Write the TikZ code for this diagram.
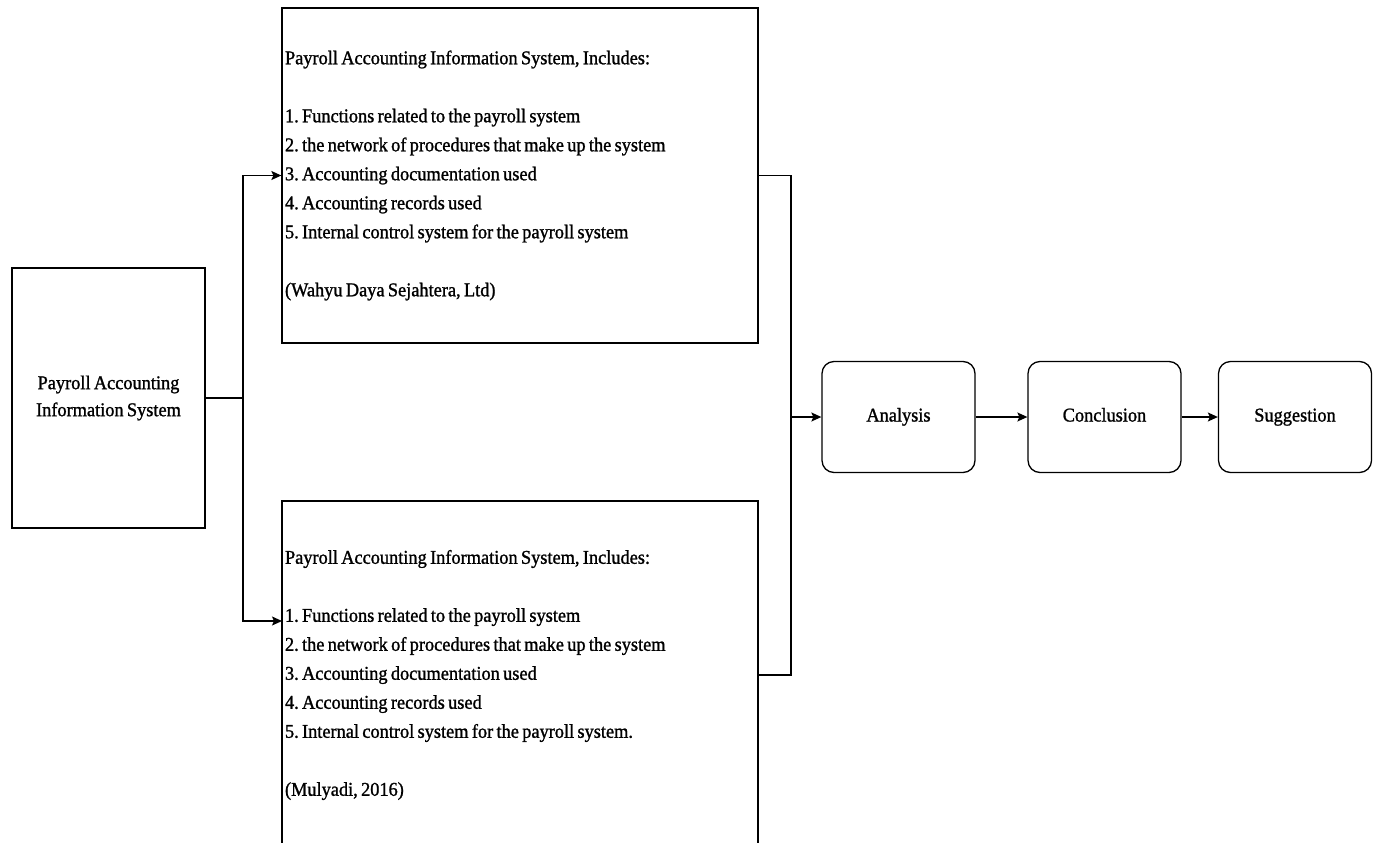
\documentclass[tikz,border=0pt]{standalone}
\usepackage{fontspec}
\setmainfont[FakeStretch=0.94,FakeBold=1.2]{Liberation Serif}
\usetikzlibrary{arrows.meta}
\newcommand{\tightsp}{\spaceskip=0.17em plus 0.05em minus 0.02em\relax}
\begin{document}
\frenchspacing
\begin{tikzpicture}[x=1pt,y=-1pt,
  box/.style={draw, line width=1.3pt, inner sep=0pt},
  bigbox/.style={box, minimum width=476pt, align=flush left, text width=470pt, font=\fontsize{19.5}{29}\selectfont\frenchspacing, execute at begin node=\tightsp},
  stepbox/.style={draw, line width=1.3pt, rounded corners=12pt, minimum width=153pt, minimum height=111pt, text height=13pt, text depth=4pt, font=\fontsize{19.5}{20}\selectfont},
  conn/.style={line width=1.3pt},
  arr/.style={line width=1.3pt, -{Stealth[length=10pt,width=9pt,inset=2pt]}}]
\clip (0,0) rectangle (1373,843);
\fill[white] (0,0) rectangle (1373,843);
\node[box, minimum width=193pt, minimum height=260pt, align=center, font=\fontsize{19.5}{27}\selectfont\tightsp] (src) at (108.5,398) {Payroll Accounting\\Information System};
\node[bigbox, minimum height=335pt] (top) at (520,175.5) {Payroll Accounting Information System, Includes:\\[29pt]1. Functions related to the payroll system\\2. the network of procedures that make up the system\\3. Accounting documentation used\\4. Accounting records used\\5. Internal control system for the payroll system\\[29pt](Wahyu Daya Sejahtera, Ltd)};
\node[bigbox, minimum height=348pt] (bot) at (520,675) {Payroll Accounting Information System, Includes:\\[29pt]1. Functions related to the payroll system\\2. the network of procedures that make up the system\\3. Accounting documentation used\\4. Accounting records used\\5. Internal control system for the payroll system.\\[29pt](Mulyadi, 2016)};
\node[stepbox] (ana) at (898.5,417) {Analysis};
\node[stepbox] (con) at (1104.5,417) {Conclusion};
\node[stepbox] (sug) at (1295,417) {Suggestion};
\coordinate (split) at (243,398);
\coordinate (botin) at (282,621);
\coordinate (merge) at (791,417);
\draw[conn] (src.east) -- (split);
\draw[arr] (split) |- (top.west);
\draw[arr] (split) |- (botin);
\draw[conn] (top.east) -| (merge);
\draw[conn] (bot.east) -| (merge);
\draw[arr] (merge) -- (ana.west);
\draw[arr] (ana) -- (con);
\draw[arr] (con) -- (sug);
\end{tikzpicture}
\end{document}
